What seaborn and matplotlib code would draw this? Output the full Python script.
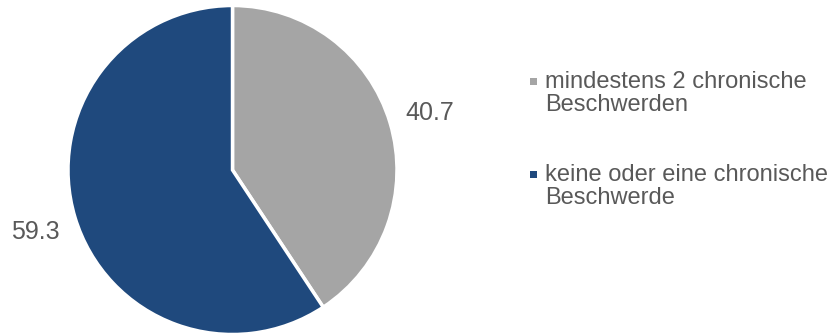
import matplotlib
matplotlib.use("Agg")
import matplotlib.pyplot as plt
import seaborn as sns
from matplotlib.patches import Rectangle

categories = ["mindestens 2 chronische\nBeschwerden", "keine oder eine chronische\nBeschwerde"]
values = [40.7, 59.3]
colors = ["#A5A5A5", "#1F497D"]

sns.set_theme(style="white")
plt.rcParams["font.family"] = ["Liberation Sans", "DejaVu Sans"]
TXT = "#595959"

W, H = 833, 335
fig = plt.figure(figsize=(W / 100, H / 100), dpi=100)
cx, cy, r = 232.5, 170, 164.5
ax = fig.add_axes([(cx - r) / W, (H - cy - r) / H, 2 * r / W, 2 * r / H])
wedges, texts = ax.pie(values, labels=[f"{v:.1f}" for v in values], colors=colors,
                       startangle=90, counterclock=False, labeldistance=1.25,
                       wedgeprops=dict(edgecolor="white", linewidth=2.5),
                       textprops=dict(color=TXT, fontsize=18))
for t in texts:
    t.set_ha("center"); t.set_va("center_baseline")
ax.set_xlim(-1, 1); ax.set_ylim(-1, 1); ax.set_aspect("equal")
ax.axis("off")

legend_y = [80, 173]
for lab, col, y in zip(categories, colors, legend_y):
    fig.text(545 / W, 1 - (y + 13.5) / H, lab, color=TXT, fontsize=17, ha="left", va="center",
             linespacing=1.1, transform=fig.transFigure)
    s = 7
    fig.patches.append(Rectangle(((533 - s / 2) / W, 1 - (y + 1.5 + s / 2) / H), s / W, s / H,
                                 facecolor=col, edgecolor="none", transform=fig.transFigure))

fig.savefig("out.png", dpi=100)
